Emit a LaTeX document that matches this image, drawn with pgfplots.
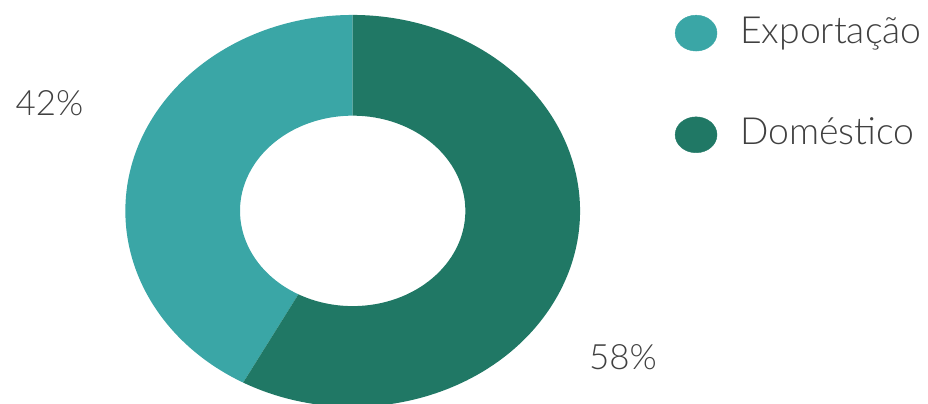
\documentclass[border=0pt]{standalone}
\usepackage{fontspec}
\setmainfont{Lato}[UprightFont={* Light}]
\usepackage{pgfplots}
\usepackage{pgfplotstable}
\pgfplotsset{compat=1.18}

\definecolor{exportc}{HTML}{3AA6A6}
\definecolor{domc}{HTML}{207865}
\definecolor{txt}{HTML}{404040}

% share of sales, in percent
\pgfplotstableread[col sep=comma]{
label,value
Exportação,42
Doméstico,58
}\sharetable

\begin{document}
\pgfplotstablegetelem{0}{value}\of\sharetable \let\vexp\pgfplotsretval
\pgfplotstablegetelem{1}{value}\of\sharetable \let\vdom\pgfplotsretval
\pgfmathsetmacro\angsplit{90+3.6*\vexp}
\begin{tikzpicture}
  \begin{axis}[
      x=1pt, y=1pt,
      xmin=0, xmax=928,
      ymin=0, ymax=405,
      scale only axis,
      hide axis,
      clip=false,
      legend cell align=left,
      legend image code/.code={\fill[#1] (21pt,0pt) ellipse[x radius=21pt, y radius=18pt];},
      legend style={
        at={(axis cs:674,392)}, anchor=north west,
        draw=none, fill=none, inner sep=0pt,
        font=\fontsize{37.5}{45}\selectfont, text=txt,
        nodes={inner sep=0pt, text height=30pt, text depth=10pt},
        row sep=62pt,
        /tikz/every odd column/.style={column sep=23pt},
      },
    ]
    \addlegendimage{exportc}
    \addlegendentry{Exportação}
    \addlegendimage{domc}
    \addlegendentry{Doméstico}

    \coordinate (c) at (axis cs:351,193.5);
    % outer radii 228 x 196.5, inner 113 x 95.5
    \fill[exportc] (c) ++(90:228pt and 196.5pt)
      arc[start angle=90, end angle=\angsplit, x radius=228pt, y radius=196.5pt]
      -- ([shift={(\angsplit:113pt and 95.5pt)}]c)
      arc[start angle=\angsplit, end angle=90, x radius=113pt, y radius=95.5pt]
      -- cycle;
    \fill[domc] (c) ++(\angsplit:228pt and 196.5pt)
      arc[start angle=\angsplit, end angle=450, x radius=228pt, y radius=196.5pt]
      -- ([shift={(90:113pt and 95.5pt)}]c)
      arc[start angle=450, end angle=\angsplit, x radius=113pt, y radius=95.5pt]
      -- cycle;

    \node[font=\fontsize{35}{42}\selectfont, text=txt] at (axis cs:47,302) {\vexp\%};
    \node[font=\fontsize{35}{42}\selectfont, text=txt] at (axis cs:622,47) {\vdom\%};
  \end{axis}
  \pgfresetboundingbox
  \path (0,0) rectangle (928pt,405pt);
\end{tikzpicture}
\end{document}
